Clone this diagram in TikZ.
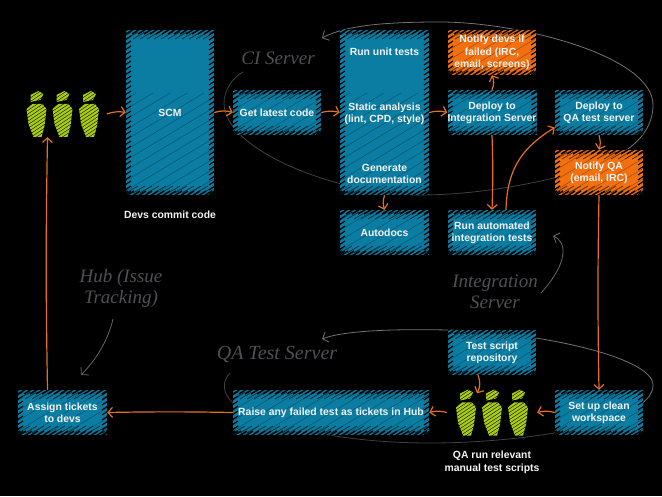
\documentclass[tikz,border=0pt]{standalone}
\usepackage{fontspec}
\setmainfont{Liberation Sans}
\newfontfamily\handfont{Liberation Serif}
\usetikzlibrary{arrows.meta}

\definecolor{boxblue}{HTML}{0B7DA3}
\definecolor{boxorange}{HTML}{F2700F}
\definecolor{flowline}{HTML}{E5701E}
\definecolor{figgreen}{HTML}{A9CE0E}
\definecolor{textwhite}{HTML}{F4F4F4}
\definecolor{handgrey}{HTML}{505054}

% Saw edge and stray diagonal strokes; clipped by the node, so the ranges are
% simply wide enough for the biggest box.
\newcommand{\hatchstrokes}{%
  \foreach \x in {-160,-143,...,190}
    \draw[black, opacity=0.35, line width=0.5pt]
      ([shift={(\x,0)}]path picture bounding box.south west) -- ++(170,102);
  \foreach \x in {-14,-7,...,200} {
    \draw[black, opacity=0.55, line width=0.9pt]
      ([shift={(\x,-9)}]path picture bounding box.north west) -- ++(12,7);
    \draw[black, opacity=0.55, line width=0.9pt]
      ([shift={(\x,2)}]path picture bounding box.south west) -- ++(12,7);
  }
  \foreach \x in {-12,-6,...,200} {
    \draw[black, line width=1.5pt]
      ([shift={(\x,-4)}]path picture bounding box.north west) -- ++(8,5);
    \draw[black, line width=1.5pt]
      ([shift={(\x,-1)}]path picture bounding box.south west) -- ++(8,5);
  }
  \foreach \y in {-5,0,...,170} {
    \draw[black, line width=1.2pt]
      ([shift={(-1,\y)}]path picture bounding box.south west) -- ++(6,4);
    \draw[black, line width=1.2pt]
      ([shift={(-5,\y)}]path picture bounding box.south east) -- ++(6,4);
  }
}

\tikzset{
  hatchbox/.style={rectangle, fill=#1, inner sep=0pt, align=center,
    text=textwhite, minimum width=88pt, minimum height=45pt,
    font=\fontsize{10.4}{12.3}\selectfont\bfseries,
    path picture={\hatchstrokes}},
  lowered/.style={execute at begin node={\rule{0pt}{10.5pt}}},
  freetext/.style={align=center, text=textwhite, inner sep=0pt,
    font=\fontsize{10.4}{12.6}\selectfont\bfseries},
  handtext/.style={text=handgrey, inner sep=0pt, align=center,
    font=\handfont\itshape\fontsize{19}{21}\selectfont},
  crowd/.style={minimum width=74pt, minimum height=46pt, inner sep=0pt},
  flow/.style={draw=flowline, line width=1.2pt, ->,
    >={Straight Barb[length=4.5pt,width=10pt]}},
  serverline/.style={draw=#1, line width=0.8pt,
    >={Straight Barb[length=5pt,width=11pt]}},
  person/.pic={
    \begin{scope}
      \clip (-6,12) -- (4,14) -- (7,20) -- (2,23) -- (-6,19) -- cycle
            (-10,5) -- (-4,10) -- (6,10) -- (10,5) -- (8,-12) -- (5,-23)
            -- (-3,-23) -- (-8,-10) -- cycle;
      \foreach \y in {-32,-28.4,...,26}
        \draw[figgreen, line width=2.3pt] (-12,\y-8) -- (12,\y+8);
    \end{scope}
  },
}

\begin{document}
\begin{tikzpicture}[x=1pt, y=1pt]

\fill[black] (0,0) rectangle (662,496);
\useasboundingbox (0,0) rectangle (662,496);

% ============================================================ server outlines
% These run behind the boxes, so they come first.
\draw[serverline=black!55!white, <-] (322,458) .. controls (345,470) and (380,474) .. (440,474)
  .. controls (520,474) and (653,440) .. (653,391)
  .. controls (653,370) and (640,355) .. (625,345);
\draw[serverline=black!75!white] (625,345) .. controls (600,325) and (500,301) .. (420,301)
  .. controls (340,301) and (224,345) .. (224,393)
  .. controls (224,405) and (232,418) .. (243,424);

\draw[serverline=black!55!white, <-] (322,157) .. controls (345,166) and (400,167) .. (447,166)
  .. controls (530,165) and (653,140) .. (653,111)
  .. controls (653,103) and (648,97) .. (641,92);
\draw[serverline=black!75!white] (641,92) .. controls (620,70) and (520,53) .. (430,53)
  .. controls (340,53) and (270,70) .. (233,93)
  .. controls (222,103) and (222,115) .. (230,123);

% ================================================================= the boxes
\node[hatchbox=boxblue, minimum height=165pt] (scm) at (170,383.5) {SCM};
\node[hatchbox=boxblue] (latest) at (277,383.5) {Get latest code};
\node[hatchbox=boxblue, minimum width=89pt, minimum height=165pt] (checks) at (384.5,383.5) {};
\node[hatchbox=boxorange, lowered] (notifydevs) at (492,443.5) {Notify devs if\\failed (IRC,\\email, screens)};
\node[hatchbox=boxblue, lowered] (deployint) at (492,383.5) {Deploy to\\Integration Server};
\node[hatchbox=boxblue, lowered] (deployqa) at (599,383.5) {Deploy to\\QA test server};
\node[hatchbox=boxorange, lowered] (notifyqa) at (599,323.5) {Notify QA\\(email, IRC)};
\node[hatchbox=boxblue, minimum width=89pt] (autodocs) at (384.5,263.5) {Autodocs};
\node[hatchbox=boxblue, lowered] (integration) at (492,263.5) {Run automated\\integration tests};
\node[hatchbox=boxblue, lowered] (repository) at (492,143.5) {Test script\\repository};
\node[hatchbox=boxblue, lowered] (workspace) at (599,83.5) {Set up clean\\workspace};
\node[hatchbox=boxblue, minimum width=196pt] (raise) at (331,83.5) {Raise any failed test as tickets in Hub};
\node[hatchbox=boxblue, minimum width=89pt, lowered] (assign) at (62.5,83.5) {Assign tickets\\to devs};

% The tall box carries three separate captions.
\node[freetext] (unitlabel) at (384.5,444) {Run unit tests};
\node[freetext] (staticlabel) at (384.5,382) {Static analysis\\(lint, CPD, style)};
\node[freetext] (doclabel) at (384.5,322) {Generate\\documentation};

\node[freetext] (commitlabel) at (170,281) {Devs commit code};
\node[freetext] (manuallabel) at (492,33.5) {QA run relevant\\manual test scripts};

% ================================================================ the people
\node[crowd] (devs) at (62.5,382) {};
\foreach \x in {36.5,62.5,89}
  \pic at (\x,382) {person};
\node[crowd] (testers) at (492,83.5) {};
\foreach \x in {466,492,518}
  \pic at (\x,83.5) {person};

% ================================================================== the flow
\draw[flow] ([xshift=7pt]devs.east) to[bend left=14] (scm.west);
\draw[flow] (scm.east) to[bend left=16] (latest.west);
\draw[flow] (latest.east) to[bend left=14] (checks.west);
\draw[flow] (checks.east) to[bend left=14] (deployint.west);
\draw[flow] (deployint.north) to[bend right=22] (notifydevs.south);
\draw[flow] (deployint.south) to[bend left=2] (integration.north);
\draw[flow] ([xshift=14pt]integration.north) .. controls (507,330) and (525,350) .. ([yshift=-15pt]deployqa.west);
\draw[flow] (deployqa.south) to[bend left=16] (notifyqa.north);
\draw[flow] (notifyqa.south) to[bend right=1] (workspace.north);
\draw[flow] (checks.south) to[bend right=16] (autodocs.north);
\draw[flow] ([xshift=-14pt]repository.south) to[bend left=24] ([xshift=-15pt, yshift=-4pt]testers.north);
\draw[flow] (workspace.west) to[bend right=14] ([xshift=8pt]testers.east |- workspace.west);
\draw[flow] ([xshift=-8pt]testers.west) to[bend right=14] (raise.east);
\draw[flow] (raise.west) to[bend right=1] (assign.east);
\draw[flow] ([xshift=-15pt]assign.north) to[bend left=1] ([xshift=-15pt]devs.south);

% =========================================================== handwritten notes
\node[handtext] (cinote) at (278,438) {CI Server};
\node[handtext] (intnote) at (495,204) {Integration\\Server};
\node[handtext] (hubnote) at (121,208) {Hub (Issue\\Tracking)};
\node[handtext, font=\handfont\itshape\fontsize{20}{21}\selectfont] (qanote) at (277,141) {QA Test Server};

\draw[serverline=black!60!white, ->] (541,203) .. controls (570,235) and (566,255) .. (553,260);
\draw[serverline=black!60!white, ->] (113,177) .. controls (108,155) and (95,135) .. (81,121);

\end{tikzpicture}
\end{document}
